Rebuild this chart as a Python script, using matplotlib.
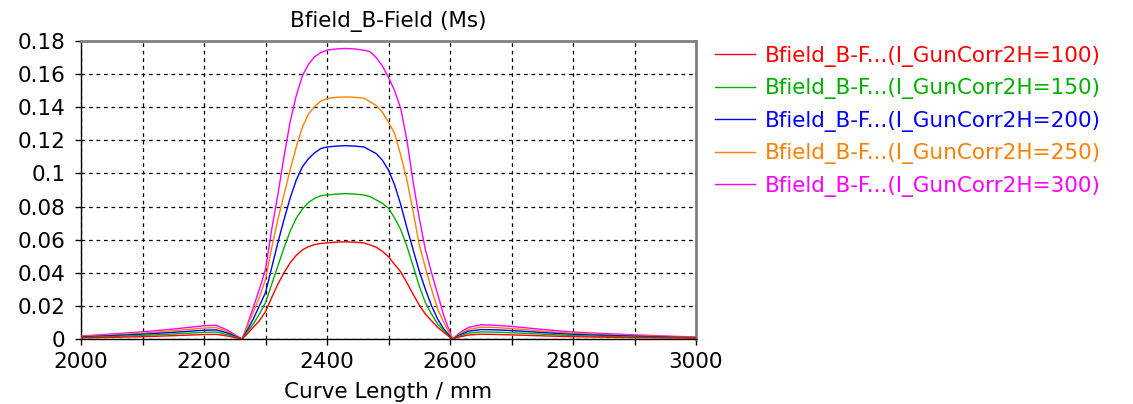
"""
Bfield_B-Field (Ms) vs curve length, for five I_GunCorr2H settings
saved as out.png
"""
import matplotlib
matplotlib.use('Agg')
import matplotlib.pyplot as plt
from matplotlib.ticker import MultipleLocator

plt.rcParams['font.family'] = ['DejaVu Sans']

# curve length (mm)
curve_len = [2000, 2050, 2100, 2150, 2200, 2220, 2240, 2255, 2262,
             2270, 2280, 2290, 2300, 2310, 2320, 2330, 2340, 2350, 2360,
             2370, 2380, 2390, 2400, 2415, 2430, 2445, 2460, 2470, 2480,
             2490, 2500, 2510, 2520, 2530, 2540, 2550, 2560, 2570, 2580,
             2590, 2597, 2604, 2615, 2630, 2650, 2670, 2700, 2750, 2800,
             2850, 2900, 2950, 3000]

bf_100 = [0.0006, 0.0010, 0.0014, 0.0020, 0.0027, 0.0028, 0.0017, 0.0005, 0.0,
          0.003, 0.007, 0.011, 0.0165, 0.025, 0.033, 0.040, 0.046, 0.0505, 0.0538,
          0.0558, 0.057, 0.0577, 0.058, 0.0585, 0.0587, 0.0585, 0.058, 0.0568, 0.0555,
          0.053, 0.0497, 0.045, 0.0405, 0.034, 0.027, 0.0205, 0.015, 0.011, 0.007,
          0.004, 0.002, 0.0, 0.0012, 0.0024, 0.0029, 0.0028, 0.0025, 0.0019, 0.0014,
          0.0011, 0.0008, 0.0006, 0.0004]

bf_150 = [0.0009, 0.0015, 0.0022, 0.0030, 0.0040, 0.0042, 0.0025, 0.0008, 0.0,
          0.004, 0.009, 0.015, 0.022, 0.033, 0.044, 0.055, 0.065, 0.073, 0.0785,
          0.0825, 0.085, 0.0865, 0.087, 0.0875, 0.0878, 0.0875, 0.087, 0.086, 0.084,
          0.082, 0.079, 0.073, 0.066, 0.056, 0.044, 0.032, 0.022, 0.015, 0.009,
          0.005, 0.002, 0.0, 0.0018, 0.0035, 0.0043, 0.0042, 0.0038, 0.0029, 0.0021,
          0.0016, 0.0012, 0.0009, 0.0006]

bf_200 = [0.0012, 0.0020, 0.0029, 0.0040, 0.0053, 0.0055, 0.0034, 0.0010, 0.0,
          0.005, 0.012, 0.020, 0.028, 0.043, 0.058, 0.072, 0.085, 0.096, 0.104,
          0.109, 0.1125, 0.115, 0.116, 0.1165, 0.1168, 0.1165, 0.116, 0.114, 0.112,
          0.108, 0.102, 0.093, 0.081, 0.067, 0.054, 0.041, 0.030, 0.020, 0.012,
          0.006, 0.003, 0.0, 0.0023, 0.0047, 0.0057, 0.0056, 0.0051, 0.0039, 0.0028,
          0.0022, 0.0017, 0.0012, 0.0008]

bf_250 = [0.0015, 0.0025, 0.0036, 0.0050, 0.0066, 0.0069, 0.0042, 0.0012, 0.0,
          0.007, 0.016, 0.025, 0.036, 0.055, 0.072, 0.087, 0.102, 0.116, 0.128,
          0.136, 0.1405, 0.1437, 0.1452, 0.146, 0.1462, 0.146, 0.1455, 0.1433, 0.141,
          0.137, 0.131, 0.124, 0.111, 0.096, 0.077, 0.057, 0.043, 0.030, 0.018,
          0.010, 0.005, 0.0, 0.0029, 0.0058, 0.0071, 0.0070, 0.0063, 0.0048, 0.0035,
          0.0027, 0.0021, 0.0015, 0.0010]

bf_300 = [0.0018, 0.0030, 0.0043, 0.0060, 0.0080, 0.0083, 0.0050, 0.0015, 0.0,
          0.008, 0.019, 0.030, 0.042, 0.066, 0.087, 0.110, 0.131, 0.147, 0.159,
          0.166, 0.1705, 0.173, 0.1745, 0.1752, 0.1755, 0.1752, 0.1745, 0.1735, 0.170,
          0.165, 0.158, 0.150, 0.139, 0.120, 0.095, 0.073, 0.054, 0.040, 0.027,
          0.014, 0.007, 0.0, 0.0035, 0.0070, 0.0086, 0.0084, 0.0076, 0.0058, 0.0042,
          0.0033, 0.0025, 0.0018, 0.0012]

series = [bf_100, bf_150, bf_200, bf_250, bf_300]
currents = [100, 150, 200, 250, 300]
colors = ['#FF0000', '#00B000', '#0000FF', '#FF8000', '#FF00FF']

FS = 15.5

fig = plt.figure(figsize=(11.33, 4.04), dpi=100)
ax = fig.add_axes([81/1133, 65/404, 615/1133, 298/404])

for i, (vals, cur, col) in enumerate(zip(series, currents, colors)):
    ax.plot(curve_len, vals, color=col, lw=1.0, zorder=10 - i,
            label=f'Bfield_B-F...(I_GunCorr2H={cur})')

ax.set_xlim(2000, 3000)
ax.set_ylim(0, 0.18)
ax.xaxis.set_major_locator(MultipleLocator(200))
ax.xaxis.set_minor_locator(MultipleLocator(100))
ax.set_yticks([0, 0.02, 0.04, 0.06, 0.08, 0.1, 0.12, 0.14, 0.16, 0.18])
ax.set_yticklabels(['0', '0.02', '0.04', '0.06', '0.08', '0.1', '0.12', '0.14', '0.16', '0.18'])

ax.grid(True, which='both', color='black', linestyle=(0, (3, 3)), linewidth=0.9)
ax.tick_params(which='both', direction='out', length=4, width=1, labelsize=FS, color='black')
ax.tick_params(axis='x', pad=5)
ax.tick_params(axis='y', pad=7)

for side in ['top', 'right']:
    ax.spines[side].set_color('#808080')
    ax.spines[side].set_linewidth(2)
for side in ['left', 'bottom']:
    ax.spines[side].set_color('black')
    ax.spines[side].set_linewidth(1)

fig.text(388/1133, 1 - 27/404, 'Bfield_B-Field (Ms)', ha='center', va='baseline', fontsize=FS)
fig.text(388/1133, 1 - 398/404, 'Curve Length / mm', ha='center', va='baseline', fontsize=FS)

leg = ax.legend(loc='upper left', bbox_to_anchor=(715/1133, 1 - 46/404),
                bbox_transform=fig.transFigure, frameon=False, fontsize=FS,
                handlelength=1.86, handletextpad=0.47, labelspacing=0.53,
                borderpad=0, borderaxespad=0, labelcolor='linecolor')
for h in leg.get_lines():
    h.set_linewidth(1.0)

plt.savefig('out.png', dpi=100)
